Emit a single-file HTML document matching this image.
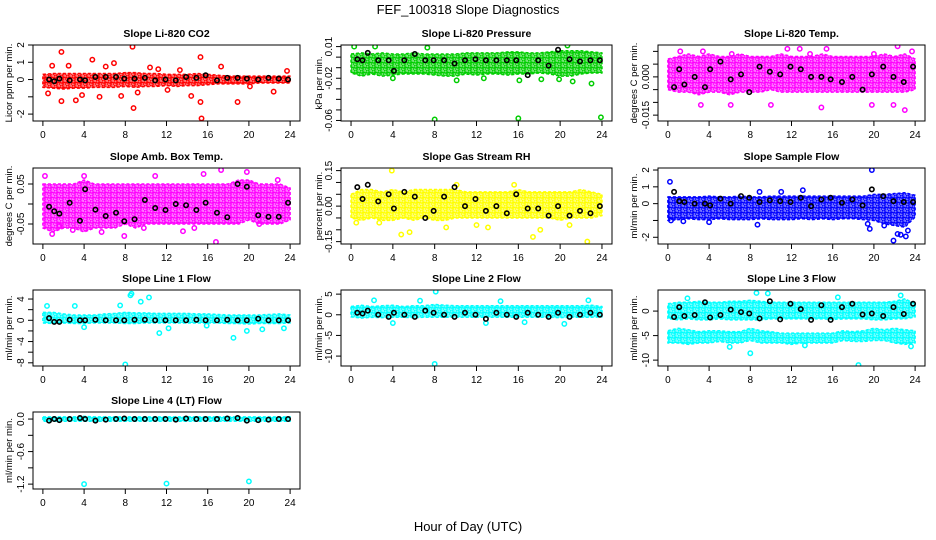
<!DOCTYPE html>
<html><head><meta charset="utf-8">
<style>
body{margin:0;background:#fff;}
svg{display:block;font-family:"Liberation Sans",Arial,sans-serif;}
</style></head>
<body>
<svg id="chart" width="936" height="540" viewBox="0 0 936 540" xmlns="http://www.w3.org/2000/svg">
<defs id="defs"></defs>
<text x="468" y="14" text-anchor="middle" font-size="13">FEF_100318  Slope Diagnostics</text>
<text x="468" y="531" text-anchor="middle" font-size="13">Hour of Day (UTC)</text>
</svg>
<script>
// ---- data (hours 0..24 band envelope, hourly means, outliers) ----
const bandHours=[0,1,2,3,4,5,6,7,8,9,10,11,12,13,14,15,16,17,18,19,20,21,22,23,24];
const meanHours=[0.6,1.1,1.6,2.6,3.6,4.1,5.1,6.1,7.1,7.9,8.9,9.9,10.9,11.9,12.9,13.9,14.9,15.8,16.9,17.9,18.9,19.8,20.9,21.9,22.9,23.8];

const co2Lo=[-0.45,-0.5,-0.55,-0.5,-0.5,-0.45,-0.45,-0.45,-0.4,-0.45,-0.4,-0.4,-0.35,-0.4,-0.35,-0.35,-0.3,-0.25,-0.25,-0.25,-0.25,-0.2,-0.2,-0.2,-0.2];
const co2Hi=[0.3,0.35,0.35,0.35,0.35,0.35,0.35,0.35,0.4,0.4,0.35,0.35,0.3,0.3,0.3,0.35,0.3,0.25,0.2,0.2,0.2,0.2,0.2,0.2,0.2];
const co2Mean=[0.0,-0.1,0.05,-0.05,0.0,-0.05,0.15,0.15,0.15,0.05,0.05,0.1,-0.05,0.0,-0.05,0.15,0.1,0.25,-0.05,0.1,0.1,0.05,0.0,0.1,0.05,0.0];
const co2OutX=[1.8,8.7,4.8,6.9,15.3,15.4,8.8,18.9,15.3,1.8,3.2,14.4,22.4,2.5,0.9,6.1,17.3,23.7,10.4,9.2,0.5,5.5,7.6,12.1,13.3,20.1,3.8,11.2];
const co2OutY=[1.6,1.9,1.15,0.95,1.3,-2.25,-1.65,-1.3,-1.3,-1.25,-1.2,-0.95,-0.7,0.8,0.8,0.75,0.75,0.5,0.7,-0.75,-0.8,-1.0,-0.95,-0.6,0.55,-0.4,-0.9,0.6];

const presLo=[-0.015,-0.018,-0.016,-0.018,-0.017,-0.016,-0.016,-0.016,-0.017,-0.018,-0.018,-0.016,-0.017,-0.016,-0.016,-0.017,-0.016,-0.016,-0.015,-0.016,-0.018,-0.018,-0.016,-0.015,-0.015];
const presHi=[0.003,0.004,0.003,0.004,0.003,0.003,0.004,0.003,0.003,0.003,0.003,0.004,0.004,0.004,0.004,0.005,0.005,0.004,0.004,0.005,0.006,0.006,0.006,0.005,0.004];
const presMean=[-0.002,-0.003,0.004,-0.003,-0.003,-0.013,-0.003,0.003,-0.003,-0.003,-0.003,-0.006,-0.003,-0.002,-0.003,-0.003,-0.003,-0.003,-0.017,-0.003,-0.008,0.007,-0.002,-0.004,-0.003,-0.003];
const presOutX=[8.0,16.0,23.9,0.3,2.3,7.3,20.7,23.0,19.9,4.0,10.1,12.7,16.1,18.2,21.2];
const presOutY=[-0.059,-0.058,-0.057,0.01,0.01,0.009,0.011,-0.025,-0.021,-0.02,-0.022,-0.02,-0.022,-0.021,-0.023];

const tempLo=[-0.005,-0.006,-0.006,-0.007,-0.006,-0.006,-0.007,-0.006,-0.006,-0.006,-0.005,-0.006,-0.006,-0.006,-0.006,-0.006,-0.006,-0.006,-0.006,-0.006,-0.006,-0.006,-0.006,-0.006,-0.005];
const tempHi=[0.007,0.008,0.009,0.008,0.009,0.008,0.008,0.009,0.008,0.008,0.008,0.009,0.008,0.008,0.008,0.009,0.008,0.008,0.008,0.008,0.008,0.009,0.008,0.009,0.007];
const tempMean=[-0.004,0.003,-0.003,0.0,-0.004,0.003,0.006,-0.001,0.001,-0.006,0.004,0.002,0.001,0.004,0.003,0.0,0.0,-0.001,-0.002,0.0,-0.005,0.001,0.004,0.0,-0.002,0.004];
const tempOutX=[1.2,3.4,6.2,11.6,12.8,13.8,15.4,20.0,22.3,23.7,3.2,6.1,10.0,14.9,21.9,23.0,19.8];
const tempOutY=[0.01,0.01,0.009,0.011,0.011,0.009,0.011,0.009,0.012,0.01,-0.011,-0.011,-0.011,-0.012,-0.011,-0.013,-0.011];

const ambLo=[-0.06,-0.07,-0.06,-0.06,-0.07,-0.06,-0.06,-0.06,-0.05,-0.06,-0.05,-0.05,-0.05,-0.05,-0.05,-0.05,-0.05,-0.05,-0.05,-0.05,-0.04,-0.05,-0.05,-0.05,-0.04];
const ambHi=[0.05,0.05,0.05,0.05,0.06,0.05,0.05,0.05,0.05,0.05,0.05,0.05,0.05,0.05,0.05,0.05,0.05,0.05,0.05,0.06,0.06,0.05,0.05,0.05,0.04];
const ambMean=[-0.007,-0.018,-0.024,0.003,-0.042,0.037,-0.014,-0.03,-0.022,-0.043,-0.038,0.01,-0.01,-0.015,0.0,-0.003,-0.015,0.003,-0.022,-0.033,0.05,0.043,-0.028,-0.032,-0.032,0.003];
const ambOutX=[0.2,0.9,2.9,4.0,7.9,10.9,13.6,15.6,16.8,17.3,19.8,21.0,22.8,1.6,5.7,9.8,14.7];
const ambOutY=[0.07,-0.075,-0.065,0.07,-0.08,0.07,-0.068,0.075,-0.095,0.085,0.08,-0.05,0.06,-0.055,-0.07,-0.06,-0.06];

const rhLo=[-0.05,-0.06,-0.05,-0.06,-0.06,-0.05,-0.06,-0.05,-0.06,-0.06,-0.05,-0.05,-0.05,-0.05,-0.05,-0.05,-0.05,-0.05,-0.05,-0.05,-0.06,-0.05,-0.05,-0.05,-0.04];
const rhHi=[0.05,0.07,0.07,0.06,0.07,0.06,0.07,0.07,0.07,0.07,0.07,0.06,0.06,0.06,0.06,0.06,0.07,0.06,0.06,0.06,0.06,0.06,0.07,0.06,0.05];
const rhMean=[0.08,0.03,0.09,0.02,0.05,-0.01,0.06,0.04,-0.05,-0.02,0.04,0.08,0.0,0.03,-0.02,0.0,-0.03,0.05,-0.01,-0.01,-0.04,0.0,-0.04,-0.02,-0.03,0.0];
const rhOutX=[3.9,4.8,5.6,9.1,12.0,13.1,17.4,18.1,22.6,20.9,15.6,0.5,10.1,2.7];
const rhOutY=[0.15,-0.12,-0.11,-0.09,-0.08,-0.09,-0.13,-0.1,-0.15,-0.08,0.09,-0.07,0.09,-0.07];

const sampLo=[-1.0,-0.95,-0.9,-0.95,-0.95,-0.9,-0.95,-0.95,-0.95,-0.9,-0.95,-0.95,-0.95,-0.9,-0.95,-0.9,-0.95,-0.9,-0.9,-0.95,-1.0,-1.2,-1.3,-1.4,-0.8];
const sampHi=[0.4,0.4,0.4,0.4,0.45,0.4,0.4,0.45,0.4,0.4,0.45,0.45,0.45,0.45,0.45,0.45,0.45,0.45,0.45,0.45,0.55,0.55,0.6,0.65,0.5];
const sampMean=[0.7,0.15,0.1,0.0,0.0,-0.1,0.3,0.0,0.45,0.35,0.1,0.2,0.15,0.1,0.35,-0.15,0.25,0.35,0.05,0.25,-0.1,0.85,0.45,0.15,0.1,0.1];
const sampOutX=[0.2,0.3,19.8,21.9,22.3,22.6,23.1,23.3,8.9,11.0,13.1,19.4,19.6,1.5,4.0,8.7,21.0];
const sampOutY=[1.3,-1.0,2.0,-2.2,-1.8,-1.85,-1.95,-1.6,0.7,0.7,0.8,-1.2,-1.5,-1.05,-1.1,-1.25,-1.3];

const l1Lo=[-0.5,-0.6,-0.5,-0.6,-0.6,-0.5,-0.5,-0.5,-0.6,-0.6,-0.5,-0.5,-0.5,-0.5,-0.5,-0.5,-0.5,-0.5,-0.6,-0.6,-0.7,-0.6,-0.6,-0.6,-0.5];
const l1Hi=[1.5,1.5,1.2,1.0,1.0,1.0,1.2,1.3,1.5,1.4,1.4,1.3,1.3,1.3,1.3,1.2,1.2,1.1,1.0,1.0,1.0,1.0,1.1,1.2,1.0];
const l1Mean=[0.4,-0.3,-0.3,0.1,0.0,0.0,0.1,0.0,0.0,0.0,0.1,0.1,0.0,0.0,0.0,0.0,0.1,0.0,0.0,0.1,0.0,0.0,0.3,0.0,0.0,0.0];
const l1OutX=[8.0,8.6,8.5,10.3,9.5,7.5,0.4,3.1,11.3,18.5,4.0,12.2,19.8,15.9,21.3,23.4];
const l1OutY=[-8.3,5.0,4.7,4.3,3.5,2.8,2.7,2.7,-2.4,-3.3,-1.3,-1.5,-2.0,-1.0,-1.7,-1.5];

const l2Lo=[-0.5,-0.8,-0.6,-0.7,-0.6,-0.6,-0.7,-0.6,-0.6,-0.6,-0.6,-0.6,-0.6,-0.6,-0.6,-0.6,-0.6,-0.6,-0.6,-0.6,-0.7,-0.6,-0.6,-0.6,-0.5];
const l2Hi=[2.0,2.3,2.0,2.2,2.3,2.0,2.2,2.2,2.5,2.3,2.2,2.2,2.2,2.2,2.2,2.2,2.2,2.2,2.2,2.2,2.2,2.2,2.2,2.3,2.0];
const l2Mean=[0.5,0.3,1.0,0.0,-0.5,0.5,0.0,-0.5,1.0,0.5,0.0,-0.5,0.5,0.0,-1.0,0.5,0.0,-0.5,0.5,0.0,-0.5,0.5,-0.5,0.0,0.5,0.0];
const l2OutX=[8.0,8.1,4.0,12.9,16.6,20.4,2.2,6.6,14.3,22.7];
const l2OutY=[-11.9,5.6,-2.0,-2.0,-1.8,-2.2,3.5,3.4,3.3,3.5];

const l3Lo=[-1.5,-1.8,-1.6,-1.8,-1.8,-1.6,-1.8,-1.8,-1.8,-1.8,-1.6,-1.6,-1.6,-1.6,-1.6,-1.6,-1.7,-1.6,-1.6,-1.6,-1.8,-1.8,-1.6,-1.6,-1.2];
const l3Hi=[1.5,1.8,1.8,2.0,1.8,1.8,2.0,2.0,2.2,2.0,1.8,1.8,1.8,1.8,1.8,1.8,1.8,1.8,1.8,1.8,1.8,1.8,2.0,2.5,1.5];
const l3Lo2=[-6.5,-6.5,-6.8,-6.5,-6.5,-6.2,-6.5,-6.5,-6.0,-6.5,-6.5,-6.5,-6.8,-6.5,-6.5,-6.5,-6.5,-6.0,-6.2,-6.2,-6.0,-6.0,-6.5,-6.8,-6.5];
const l3Hi2=[-4.0,-3.5,-3.8,-4.2,-4.0,-4.0,-4.2,-4.2,-3.5,-4.0,-4.2,-4.5,-4.5,-4.5,-4.5,-4.5,-4.5,-4.0,-4.2,-4.0,-3.5,-3.8,-3.5,-3.8,-4.0];
const l3Mean=[-1.2,0.8,-1.0,-0.8,1.8,-1.3,-0.8,0.3,-0.2,-0.5,-1.5,2.0,-1.7,1.5,0.4,-1.8,1.2,-1.8,0.8,1.5,-0.7,-0.5,-1.0,0.8,-0.6,1.5];
const l3OutX=[8.0,18.5,8.6,9.7,22.6,23.6,16.5,1.9,6.0,13.3];
const l3OutY=[-8.6,-11.0,3.7,3.6,3.2,-7.2,2.8,2.6,-7.3,-7.0];

const l4Lo=[-0.04,-0.04,-0.04,-0.04,-0.04,-0.04,-0.04,-0.04,-0.04,-0.04,-0.04,-0.04,-0.04,-0.04,-0.04,-0.04,-0.04,-0.04,-0.04,-0.04,-0.04,-0.04,-0.04,-0.04,-0.04];
const l4Hi=[0.04,0.04,0.04,0.04,0.05,0.04,0.04,0.04,0.04,0.04,0.04,0.04,0.04,0.04,0.04,0.04,0.04,0.04,0.04,0.04,0.04,0.04,0.04,0.04,0.04];
const l4Mean=[-0.03,0.0,-0.02,0.0,0.02,0.0,-0.03,-0.01,0.0,0.01,0.0,0.0,0.0,0.0,-0.01,0.01,0.0,0.0,0.0,0.01,0.02,-0.03,-0.02,-0.01,0.0,0.0];
const l4OutX=[4.0,12.0,20.0];
const l4OutY=[-1.2,-1.19,-1.15];

const xTicks=[0,4,8,12,16,20,24];

// ---- layout ----
const NS='http://www.w3.org/2000/svg';
const svg=document.getElementById('chart');
const defs=document.getElementById('defs');
const cols=[[33,300],[341,612],[658,925]];
const rows=[[45,121],[168,244],[290,366],[412,489]];
const ylabX=[12,322,637];

function el(tag,attrs,parent){const e=document.createElementNS(NS,tag);for(const k in attrs)e.setAttribute(k,attrs[k]);(parent||svg).appendChild(e);return e;}

const patterns={};
function pattern(color){
  if(patterns[color])return patterns[color];
  const id='pat'+color.replace('#','');
  const p=el('pattern',{id:id,width:6,height:5,patternUnits:'userSpaceOnUse'},defs);
  el('rect',{x:0,y:0,width:6,height:5,fill:color,'fill-opacity':0.55},p);
  el('circle',{cx:1.5,cy:1.5,r:1.6,fill:'none',stroke:color,'stroke-width':1.3},p);
  el('circle',{cx:4.5,cy:4,r:1.6,fill:'none',stroke:color,'stroke-width':1.3},p);
  patterns[color]='url(#'+id+')';
  return patterns[color];
}

function panel(cfg){
  const [x0,x1]=cols[cfg.c],[y0,y1]=rows[cfg.r];
  const g=el('g',{});
  
  
  const xs=v=>x0+(v+0.96)/(25.92)*(x1-x0);
  const ys=v=>y1-(v-cfg.ylim[0])/(cfg.ylim[1]-cfg.ylim[0])*(y1-y0);
  const clipId='clip'+cfg.name;
  const cp=el('clipPath',{id:clipId},g);el('rect',{x:x0,y:y0,width:x1-x0,height:y1-y0},cp);
  const pg=el('g',{'clip-path':'url(#'+clipId+')'},g);
  const fillRef=pattern(cfg.color);
  cfg.bands.forEach(([lo,hi])=>{
    let pts=bandHours.map((h,i)=>xs(h)+','+ys(hi[i]));
    pts=pts.concat(bandHours.map((h,i)=>xs(h)+','+ys(lo[i])).reverse());
    const p=el('polygon',{points:pts.join(' '),fill:fillRef,stroke:cfg.color,'stroke-width':1.5,'stroke-dasharray':'3 2','stroke-linejoin':'round'},pg);
    
    
  });
  cfg.outX.forEach((xv,i)=>{
    const c=el('circle',{cx:xs(xv),cy:ys(cfg.outY[i]),r:2.2,fill:'none',stroke:cfg.color,'stroke-width':1.5},pg);
    
    
  });
  meanHours.forEach((xv,i)=>{
    const c=el('circle',{cx:xs(xv),cy:ys(cfg.mean[i]),r:2.2,fill:'none',stroke:'#000','stroke-width':1.6},pg);
    
    
  });
  const box=el('rect',{x:x0,y:y0,width:x1-x0,height:y1-y0,fill:'none',stroke:'#000','stroke-width':1},g);
  
  
  xTicks.forEach(t=>{
    el('line',{x1:xs(t),x2:xs(t),y1:y1,y2:y1+5,stroke:'#000'},g);
    const tx=el('text',{x:xs(t),y:y1+17,'text-anchor':'middle','font-size':10},g);tx.textContent=t;
    
    
  });
  el('line',{x1:xs(0),x2:xs(24),y1:y1,y2:y1,stroke:'#000'},g);
  cfg.yTicks.forEach(t=>el('line',{x1:x0-5,x2:x0,y1:ys(t),y2:ys(t),stroke:'#000'},g));
  el('line',{x1:x0,x2:x0,y1:ys(cfg.yTicks[0]),y2:ys(cfg.yTicks[cfg.yTicks.length-1]),stroke:'#000'},g);
  cfg.yLabels.forEach((t,i)=>{
    const v=cfg.yLabelVals[i];
    const tx=el('text',{x:x0-9,y:ys(v),'text-anchor':'middle','font-size':10,transform:`rotate(-90 ${x0-9} ${ys(v)})`},g);tx.textContent=t;
    
    
  });
  const yl=el('text',{x:ylabX[cfg.c],y:(y0+y1)/2,'text-anchor':'middle','font-size':9.5,transform:`rotate(-90 ${ylabX[cfg.c]} ${(y0+y1)/2})`},g);yl.textContent=cfg.ylab;
  
  
  const ti=el('text',{x:(x0+x1)/2,y:y0-8,'text-anchor':'middle','font-size':10.5,'font-weight':'bold'},g);ti.textContent=cfg.title;
  
  
}

panel({name:'panel-co2',c:0,r:0,color:'#ff0000',title:'Slope Li-820 CO2',ylab:'Licor ppm per min.',ylim:[-2.4,2.0],yTicks:[-2,-1,0,1,2],yLabels:['2','1','0','-2'],yLabelVals:[2,1,0,-2],bands:[[co2Lo,co2Hi]],mean:co2Mean,outX:co2OutX,outY:co2OutY});
panel({name:'panel-pressure',c:1,r:0,color:'#00cd00',title:'Slope Li-820 Pressure',ylab:'kPa per min.',ylim:[-0.0605,0.0115],yTicks:[-0.06,-0.05,-0.04,-0.03,-0.02,-0.01,0,0.01],yLabels:['0.01','-0.02','-0.06'],yLabelVals:[0.01,-0.02,-0.06],bands:[[presLo,presHi]],mean:presMean,outX:presOutX,outY:presOutY});
panel({name:'panel-temp',c:2,r:0,color:'#ff00ff',title:'Slope Li-820 Temp.',ylab:'degrees C per min.',ylim:[-0.0173,0.0125],yTicks:[-0.015,-0.01,-0.005,0,0.005,0.01],yLabels:['0.000','-0.015'],yLabelVals:[0,-0.015],bands:[[tempLo,tempHi]],mean:tempMean,outX:tempOutX,outY:tempOutY});
panel({name:'panel-amb-box-temp',c:0,r:1,color:'#ff00ff',title:'Slope Amb. Box Temp.',ylab:'degrees C per min.',ylim:[-0.1,0.09],yTicks:[-0.05,0,0.05],yLabels:['0.05','-0.05'],yLabelVals:[0.05,-0.05],bands:[[ambLo,ambHi]],mean:ambMean,outX:ambOutX,outY:ambOutY});
panel({name:'panel-gas-rh',c:1,r:1,color:'#ffff00',title:'Slope Gas Stream RH',ylab:'percent per min.',ylim:[-0.16,0.161],yTicks:[-0.15,-0.1,-0.05,0,0.05,0.1,0.15],yLabels:['0.15','0.00','-0.15'],yLabelVals:[0.15,0,-0.15],bands:[[rhLo,rhHi]],mean:rhMean,outX:rhOutX,outY:rhOutY});
panel({name:'panel-sample-flow',c:2,r:1,color:'#0000ff',title:'Slope Sample Flow',ylab:'ml/min per min.',ylim:[-2.4,2.12],yTicks:[-2,-1,0,1,2],yLabels:['2','1','0','-2'],yLabelVals:[2,1,0,-2],bands:[[sampLo,sampHi]],mean:sampMean,outX:sampOutX,outY:sampOutY});
panel({name:'panel-line1-flow',c:0,r:2,color:'#00ffff',title:'Slope Line 1 Flow',ylab:'ml/min per min.',ylim:[-8.6,5.7],yTicks:[-8,-6,-4,-2,0,2,4],yLabels:['4','0','-4','-8'],yLabelVals:[4,0,-4,-8],bands:[[l1Lo,l1Hi]],mean:l1Mean,outX:l1OutX,outY:l1OutY});
panel({name:'panel-line2-flow',c:1,r:2,color:'#00ffff',title:'Slope Line 2 Flow',ylab:'ml/min per min.',ylim:[-12.4,6.0],yTicks:[-10,-5,0,5],yLabels:['5','0','-5','-10'],yLabelVals:[5,0,-5,-10],bands:[[l2Lo,l2Hi]],mean:l2Mean,outX:l2OutX,outY:l2OutY});
panel({name:'panel-line3-flow',c:2,r:2,color:'#00ffff',title:'Slope Line 3 Flow',ylab:'ml/min per min.',ylim:[-11.2,4.3],yTicks:[-10,-5,0],yLabels:['0','-5','-10'],yLabelVals:[0,-5,-10],bands:[[l3Lo,l3Hi],[l3Lo2,l3Hi2]],mean:l3Mean,outX:l3OutX,outY:l3OutY});
panel({name:'panel-line4-flow',c:0,r:3,color:'#00ffff',title:'Slope Line 4 (LT) Flow',ylab:'ml/min per min.',ylim:[-1.29,0.13],yTicks:[-1.2,-0.9,-0.6,-0.3,0],yLabels:['0.0','-0.6','-1.2'],yLabelVals:[0,-0.6,-1.2],bands:[[l4Lo,l4Hi]],mean:l4Mean,outX:l4OutX,outY:l4OutY});
</script>
</body></html>
